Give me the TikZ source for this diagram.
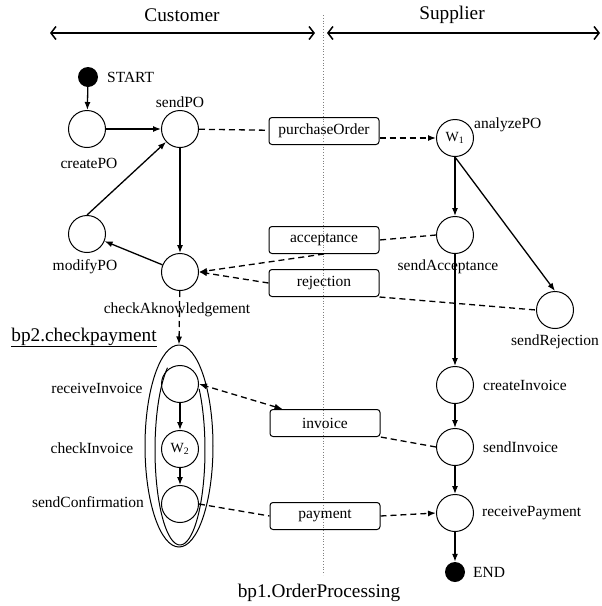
\documentclass[tikz,border=0pt]{standalone}
\usepackage{fontspec}
\setmainfont{Liberation Serif}
\usetikzlibrary{arrows.meta,shapes.geometric}
\tikzset{
  state/.style={draw,circle,line width=1pt,minimum size=37pt,inner sep=0pt,font=\fontsize{14}{16}\selectfont},
  term/.style={circle,fill=black,minimum size=20pt,inner sep=0pt},
  msg/.style={draw,rounded corners=3pt,line width=1pt,minimum width=110pt,minimum height=27pt,inner sep=0pt,font=\fontsize{15.5}{18}\selectfont},
  flow/.style={line width=1.3pt,-{Latex[length=8pt,width=6pt]}},
  link/.style={line width=1.3pt,dash pattern=on 6pt off 4pt},
  linkarr/.style={link,-{Latex[length=8pt,width=6pt]}},
  lbl/.style={font=\fontsize{15.5}{18}\selectfont,inner sep=0pt},
  big/.style={font=\fontsize{19.3}{22}\selectfont,inner sep=0pt},
  lane/.style={line width=1.5pt,{Straight Barb[length=5pt,width=13pt]}-{Straight Barb[length=5pt,width=13pt]}}
}
\begin{document}
\begin{tikzpicture}[x=1pt,y=-1pt]
\useasboundingbox (0,0) rectangle (602,606);
% lanes
\coordinate (custL) at (50,33);
\coordinate (custR) at (315,33);
\coordinate (suppL) at (327,33);
\coordinate (suppR) at (600,33);
\coordinate (sepTop) at (323,15);
\coordinate (sepBot) at (323,575);
\draw[lane] (custL) -- (custR);
\draw[lane] (suppL) -- (suppR);
\draw[gray,line width=0.8pt,dotted] (sepTop) -- (sepBot);
% customer
\node[term] (start) at (88,77) {};
\node[state] (createPO) at (87,129) {};
\node[state] (sendPO) at (180,129) {};
\node[state] (modifyPO) at (87,234) {};
\node[state] (checkAck) at (180,272) {};
\node[draw,ellipse,line width=1pt,minimum width=68pt,minimum height=202pt,inner sep=0pt] (checkpayment) at (179,446) {};
\draw[line width=1pt] plot[smooth,samples=60,domain=-40:240] ({180+25*cos(\x)},{450+95*sin(\x)});
\node[state] (receiveInvoice) at (180,384) {};
\node[state] (checkInvoice) at (180,449) {W\textsubscript{2}};
\node[state] (sendConfirmation) at (180,504) {};
% messages
\node[msg] (purchaseOrder) at (324,131) {purchaseOrder};
\node[msg] (acceptance) at (324,240) {acceptance};
\node[msg] (rejection) at (324,283) {rejection};
\node[msg] (invoice) at (325,423) {invoice};
\node[msg] (payment) at (325,516) {payment};
% supplier
\node[state] (analyzePO) at (455,138) {W\textsubscript{1}};
\node[state] (sendAcceptance) at (455,235) {};
\node[state] (sendRejection) at (555,310) {};
\node[state] (createInvoice) at (455,385) {};
\node[state] (sendInvoice) at (455,447) {};
\node[state] (receivePayment) at (455,513) {};
\node[term] (end) at (455,572) {};
% flows
\draw[flow] (start) -- (createPO);
\draw[flow] (createPO) -- (sendPO);
\draw[flow] (sendPO) -- (checkAck);
\draw[flow] (checkAck) -- (modifyPO);
\draw[flow] (modifyPO.north) -- (sendPO);
\draw[flow] (receiveInvoice) -- (checkInvoice);
\draw[flow] (checkInvoice) -- (sendConfirmation);
\draw[flow] (analyzePO) -- (sendAcceptance);
\draw[flow] (analyzePO.south) -- (sendRejection.north);
\draw[flow] (sendAcceptance) -- (createInvoice);
\draw[flow] (createInvoice) -- (sendInvoice);
\draw[flow] (sendInvoice) -- (receivePayment);
\draw[flow] (receivePayment) -- (end);
% messages
\draw[link] (sendPO) -- (purchaseOrder);
\draw[linkarr] (purchaseOrder.east |- analyzePO) -- (analyzePO);
\draw[link] (sendAcceptance.west) -- (acceptance.east);
\draw[linkarr] (acceptance.south) -- (checkAck.east);
\draw[linkarr] (rejection.west) -- (checkAck.east);
\draw[link] (rejection.south east) -- (sendRejection.west);
\draw[linkarr] (checkAck) -- (checkpayment.north);
\draw[link] (sendInvoice.west) -- (invoice.south east);
\draw[link,{Latex[length=8pt,width=6pt]}-{Latex[length=8pt,width=6pt]}] ([xshift=13pt]invoice.north west) -- (receiveInvoice.east);
\draw[link] (sendConfirmation.east) -- (payment.west);
\draw[linkarr] (payment.east) -- (receivePayment.west);
%Text
\node[big] (custText) at (182,15) {Customer};
\node[big] (suppText) at (452,15) {Supplier};
\node[lbl,anchor=west] (startText) at (107,77) {START};
\node[lbl] (createPOText) at (89,163) {createPO};
\node[lbl] (sendPOText) at (180,102) {sendPO};
\node[lbl] (modifyPOText) at (85,267) {modifyPO};
\node[lbl] (checkAckText) at (177,310) {checkAknowledgement};
\node[big,anchor=base] (bp2Text) at (84,341) {\underline{bp2.checkpayment}};
\node[lbl] (receiveInvoiceText) at (97,388) {receiveInvoice};
\node[lbl] (checkInvoiceText) at (92,448) {checkInvoice};
\node[lbl] (sendConfirmationText) at (88,502) {sendConfirmation};
\node[lbl,anchor=west] (analyzePOText) at (474,125) {analyzePO};
\node[lbl] (sendAcceptanceText) at (448,267) {sendAcceptance};
\node[lbl] (sendRejectionText) at (555,342) {sendRejection};
\node[lbl,anchor=west] (createInvoiceText) at (483,385) {createInvoice};
\node[lbl,anchor=west] (sendInvoiceText) at (483,447) {sendInvoice};
\node[lbl,anchor=west] (receivePaymentText) at (482,513) {receivePayment};
\node[lbl,anchor=west] (endText) at (473,572) {END};
\node[big] (bp1Text) at (319,593) {bp1.OrderProcessing};
\end{tikzpicture}
\end{document}
